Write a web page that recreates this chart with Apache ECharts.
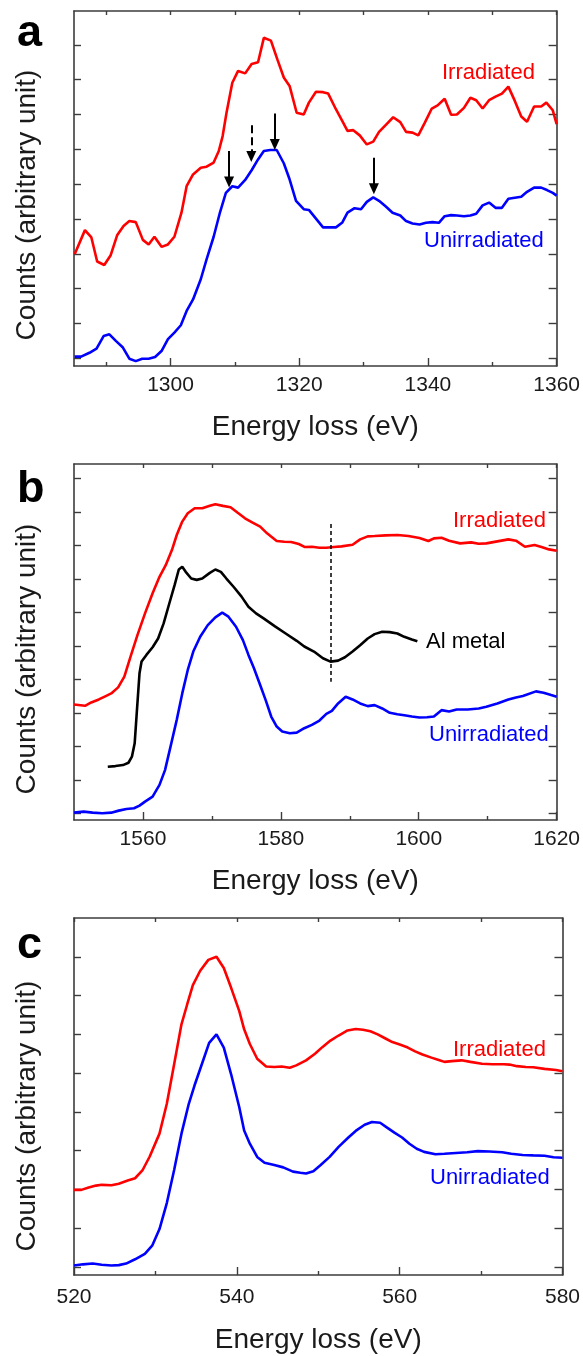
<!DOCTYPE html>
<html><head><meta charset="utf-8">
<script src="https://cdn.jsdelivr.net/npm/echarts@6/dist/echarts.min.js"></script>
<style>html,body{margin:0;padding:0;background:#fff}#c{width:583px;height:1356px}</style>
</head><body><div id="c"></div>
<script>
// ---------- Panel a (x: energy loss eV, y: counts, arbitrary) ----------
const aIrradiated = [[1285.1,2.99],[1286.7,3.68],[1287.7,3.47],[1288.6,2.78],[1289.7,2.68],[1290.7,2.96],[1291.7,3.53],[1292.7,3.80],[1293.6,3.94],[1294.6,3.91],[1295.7,3.40],[1296.6,3.27],[1297.5,3.49],[1298.6,3.20],[1299.6,3.27],[1300.6,3.49],[1301.7,4.18],[1302.5,4.94],[1303.5,5.28],[1304.7,5.47],[1305.6,5.50],[1306.7,5.62],[1307.5,5.95],[1308.1,6.38],[1308.7,7.05],[1309.6,7.91],[1310.5,8.25],[1311.6,8.18],[1312.6,8.45],[1313.6,8.50],[1314.5,9.20],[1315.6,9.12],[1316.6,8.58],[1317.6,8.06],[1318.5,7.82],[1319.6,7.05],[1320.7,7.00],[1321.5,7.34],[1322.6,7.65],[1323.7,7.64],[1324.5,7.60],[1325.7,7.15],[1326.7,6.81],[1327.5,6.53],[1328.4,6.55],[1329.4,6.40],[1330.5,6.14],[1331.5,6.22],[1332.4,6.50],[1333.5,6.71],[1334.6,6.92],[1335.7,6.78],[1336.6,6.50],[1337.6,6.48],[1338.5,6.40],[1339.5,6.76],[1340.6,7.17],[1341.5,7.26],[1342.6,7.45],[1343.6,6.99],[1344.5,7.00],[1345.6,7.19],[1346.6,7.48],[1347.5,7.41],[1348.5,7.17],[1349.5,7.41],[1350.5,7.51],[1351.5,7.60],[1352.5,7.80],[1353.5,7.39],[1354.5,6.94],[1355.4,6.79],[1356.5,7.23],[1357.6,7.23],[1358.4,7.34],[1359.4,7.12],[1360.0,6.72]];
const aUnirradiated = [[1285.1,0.05],[1286.1,0.05],[1287.4,0.16],[1288.5,0.28],[1289.6,0.64],[1290.5,0.69],[1291.5,0.50],[1292.6,0.31],[1293.6,-0.01],[1294.6,-0.08],[1295.6,-0.01],[1296.6,-0.01],[1297.6,0.04],[1298.6,0.21],[1299.6,0.55],[1300.6,0.74],[1301.6,0.95],[1302.5,1.36],[1303.5,1.69],[1304.7,2.27],[1305.6,2.84],[1306.7,3.49],[1307.7,4.20],[1308.6,4.75],[1309.6,4.94],[1310.5,4.90],[1311.6,5.12],[1312.6,5.40],[1313.6,5.71],[1314.5,5.95],[1315.5,5.98],[1316.5,5.98],[1317.6,5.60],[1318.5,5.14],[1319.5,4.52],[1320.7,4.28],[1321.5,4.26],[1322.6,4.01],[1323.7,3.76],[1324.7,3.76],[1325.7,3.76],[1326.7,3.90],[1327.5,4.18],[1328.6,4.31],[1329.6,4.28],[1330.5,4.49],[1331.5,4.62],[1332.4,4.52],[1333.5,4.35],[1334.5,4.18],[1335.7,4.10],[1336.6,3.94],[1337.6,3.87],[1338.7,3.84],[1339.7,3.89],[1340.7,3.91],[1341.7,3.89],[1342.6,4.08],[1343.6,4.11],[1344.5,4.10],[1345.6,4.08],[1346.6,4.10],[1347.5,4.15],[1348.5,4.39],[1349.5,4.47],[1350.5,4.32],[1351.5,4.32],[1352.5,4.58],[1353.5,4.61],[1354.5,4.64],[1355.4,4.78],[1356.5,4.90],[1357.6,4.90],[1358.5,4.83],[1359.4,4.75],[1360.0,4.67]];
// arrows: [energy, tail y, tip y, line type]
const aArrows = [[1309.1,5.95,5.06,'solid'],[1312.55,6.69,5.79,'dashed'],[1316.2,7.03,6.14,'solid'],[1331.6,5.76,4.87,'solid']];
const aXMajor = [1300,1320,1340,1360];
const aXMinor = [1290,1310,1330,1350];
const aYTicks = [0,1,2,3,4,5,6,7,8,9];

// ---------- Panel b ----------
const bIrradiated = [[1550.0,3.25],[1551.6,3.21],[1552.5,3.31],[1553.6,3.40],[1554.6,3.50],[1555.4,3.58],[1556.4,3.76],[1557.3,4.08],[1558.2,4.68],[1559.2,5.32],[1560.3,5.97],[1561.4,6.57],[1562.4,7.06],[1563.3,7.41],[1564.2,7.86],[1564.9,8.31],[1565.7,8.71],[1566.5,8.96],[1567.5,9.11],[1568.6,9.11],[1569.7,9.18],[1570.5,9.23],[1571.6,9.18],[1572.7,9.14],[1573.7,8.98],[1574.8,8.81],[1575.9,8.68],[1577.0,8.56],[1578.0,8.36],[1579.4,8.13],[1580.5,8.11],[1581.5,8.10],[1582.6,8.04],[1583.5,7.95],[1584.5,7.96],[1585.6,7.93],[1586.6,7.93],[1587.7,7.95],[1588.8,7.97],[1590.4,8.02],[1591.5,8.18],[1592.6,8.27],[1593.6,8.28],[1595.2,8.30],[1596.9,8.31],[1598.5,8.28],[1600.1,8.22],[1601.4,8.13],[1602.2,8.21],[1603.3,8.23],[1604.4,8.14],[1606.0,8.06],[1607.6,8.09],[1608.7,8.05],[1609.8,8.06],[1611.4,8.12],[1613.0,8.18],[1614.1,8.14],[1615.4,7.96],[1616.8,8.01],[1617.8,7.95],[1618.9,7.88],[1620.0,7.84]];
const bAlMetal = [[1554.9,1.39],[1556.0,1.41],[1557.1,1.44],[1557.9,1.51],[1558.4,1.69],[1558.8,2.09],[1559.1,2.99],[1559.5,4.18],[1559.8,4.53],[1560.5,4.73],[1561.4,4.96],[1562.2,5.22],[1563.0,5.67],[1563.8,6.25],[1564.6,6.82],[1565.2,7.28],[1565.7,7.36],[1566.2,7.21],[1567.0,7.01],[1567.8,6.97],[1568.6,7.01],[1569.7,7.18],[1570.5,7.28],[1571.3,7.21],[1572.1,7.01],[1573.2,6.75],[1574.3,6.47],[1575.3,6.17],[1576.4,5.97],[1577.5,5.82],[1579.1,5.59],[1580.7,5.37],[1582.3,5.15],[1583.4,4.98],[1584.8,4.83],[1586.1,4.63],[1587.2,4.53],[1588.3,4.56],[1589.3,4.66],[1590.4,4.83],[1591.5,5.02],[1592.6,5.22],[1593.6,5.35],[1594.7,5.42],[1595.8,5.41],[1596.9,5.37],[1597.9,5.27],[1599.0,5.19],[1599.8,5.14]];
const bUnirradiated = [[1550.0,0.02],[1551.4,0.05],[1552.7,0.02],[1554.1,0.00],[1555.4,0.02],[1556.5,0.08],[1557.6,0.13],[1558.7,0.15],[1559.5,0.23],[1560.3,0.35],[1561.4,0.50],[1562.4,0.85],[1563.2,1.29],[1564.0,1.99],[1564.9,2.79],[1565.7,3.58],[1566.5,4.28],[1567.3,4.83],[1568.3,5.27],[1569.4,5.62],[1570.5,5.85],[1571.5,5.99],[1572.4,5.87],[1573.5,5.57],[1574.5,5.17],[1575.3,4.73],[1576.1,4.33],[1577.0,3.83],[1577.8,3.38],[1578.6,2.89],[1579.4,2.59],[1580.2,2.44],[1581.3,2.39],[1582.3,2.41],[1583.4,2.54],[1584.5,2.64],[1585.6,2.77],[1586.6,2.97],[1587.4,3.06],[1588.3,3.28],[1589.4,3.48],[1590.4,3.40],[1591.5,3.28],[1592.6,3.20],[1593.6,3.23],[1594.7,3.13],[1595.8,3.00],[1596.9,2.96],[1597.9,2.93],[1599.0,2.89],[1600.1,2.86],[1601.2,2.87],[1602.2,2.89],[1603.3,3.08],[1604.4,3.04],[1605.5,3.10],[1607.1,3.10],[1608.7,3.13],[1609.8,3.18],[1611.4,3.28],[1613.0,3.40],[1614.1,3.46],[1615.1,3.50],[1617.0,3.64],[1618.1,3.60],[1619.2,3.53],[1620.0,3.48]];
const bDashed = [1587.3, 8.64, 3.93]; // energy, top y, bottom y
const bXMajor = [1560,1580,1600,1620];
const bXMinor = [1570,1590,1610];
const bYTicks = [0,1,2,3,4,5,6,7,8,9,10];

// ---------- Panel c ----------
const cIrradiated = [[520.0,1.99],[520.9,1.99],[521.8,2.05],[522.7,2.10],[523.4,2.12],[524.6,2.11],[525.5,2.15],[526.6,2.23],[527.5,2.29],[528.4,2.49],[529.3,2.85],[530.5,3.44],[531.4,4.21],[532.3,5.23],[533.2,6.26],[533.9,6.77],[534.6,7.27],[535.5,7.64],[536.5,7.92],[537.5,8.00],[538.4,7.71],[539.3,7.20],[540.3,6.60],[540.9,6.13],[541.6,5.75],[542.5,5.37],[543.6,5.17],[544.6,5.16],[545.5,5.17],[546.5,5.14],[547.3,5.20],[548.5,5.33],[549.6,5.50],[550.5,5.67],[551.5,5.84],[552.5,5.97],[553.6,6.10],[554.6,6.14],[555.5,6.12],[556.4,6.08],[557.3,6.00],[558.2,5.90],[559.1,5.80],[560.1,5.73],[561.0,5.66],[561.9,5.56],[562.8,5.48],[563.9,5.40],[564.8,5.34],[565.5,5.29],[566.4,5.31],[567.6,5.33],[568.7,5.29],[570.1,5.24],[571.4,5.23],[572.8,5.23],[573.5,5.22],[574.4,5.18],[575.5,5.16],[576.4,5.15],[577.8,5.11],[579.2,5.08],[580.0,5.05]];
const cUnirradiated = [[520.0,0.04],[521.1,0.07],[522.3,0.09],[523.4,0.06],[524.6,0.04],[525.5,0.05],[526.4,0.09],[527.5,0.20],[528.7,0.34],[529.6,0.55],[530.5,0.98],[531.4,1.65],[532.3,2.50],[533.2,3.44],[534.1,4.21],[534.8,4.68],[535.7,5.23],[536.6,5.78],[537.5,6.00],[538.4,5.66],[539.3,4.97],[540.3,4.12],[540.9,3.52],[541.6,3.18],[542.5,2.84],[543.4,2.69],[544.6,2.63],[545.7,2.57],[546.9,2.46],[547.8,2.43],[548.5,2.41],[549.4,2.47],[550.3,2.63],[551.4,2.84],[552.5,3.10],[553.7,3.34],[554.6,3.51],[555.7,3.67],[556.6,3.74],[557.6,3.72],[558.5,3.59],[559.4,3.46],[560.3,3.34],[561.2,3.18],[562.1,3.05],[563.0,2.97],[564.4,2.91],[565.5,2.92],[566.9,2.94],[568.3,2.96],[569.6,2.99],[571.0,2.98],[572.6,2.96],[573.7,2.92],[575.1,2.89],[576.4,2.88],[577.8,2.87],[578.9,2.83],[580.0,2.82]];
const cXMajor = [520,540,560,580];
const cXMinor = [530,550,570];
const cYTicks = [0,1,2,3,4,5,6,7,8];

const xTitle = 'Energy loss (eV)';
const yTitle = 'Counts (arbitrary unit)';
const panelLetters = ['a','b','c'];

// ---------- build ----------
const FONT = '"Liberation Sans", Arial, sans-serif';
const AX = '#3c3c3c';
const RED = '#ff0000', BLUE = '#0000ff', BLACK = '#000000';

const panels = [
  {grid:{left:74,top:11,width:483,height:355}, xMin:1285, xMax:1360, major:aXMajor, minor:aXMinor, yMin:-0.22, yMax:9.97, yTicks:aYTicks, lblMargin:9, nameGap:47},
  {grid:{left:74,top:464,width:483,height:356}, xMin:1550, xMax:1620, major:bXMajor, minor:bXMinor, yMin:-0.2, yMax:10.43, yTicks:bYTicks, lblMargin:9, nameGap:47},
  {grid:{left:74,top:918,width:490,height:357}, xMin:520, xMax:580, major:cXMajor, minor:cXMinor, yMin:-0.205, yMax:9.0, yTicks:cYTicks, lblMargin:12, nameGap:51}
];

const grid = [], xAxis = [], yAxis = [];
panels.forEach((p, i) => {
  grid.push(p.grid);
  const all = p.major.concat(p.minor).sort((a,b)=>a-b);
  xAxis.push({type:'value', gridIndex:i, position:'bottom', min:p.xMin, max:p.xMax,
    axisLine:{show:true, onZero:false, lineStyle:{color:AX, width:1.6}},
    axisTick:{show:true, inside:true, length:8, customValues:p.major, lineStyle:{color:AX, width:1.4}},
    axisLabel:{show:true, customValues:p.major, fontSize:21, color:'#1a1a1a', fontFamily:FONT, margin:p.lblMargin,
      formatter:v => String(v)},
    splitLine:{show:false},
    name:xTitle, nameLocation:'middle', nameGap:p.nameGap,
    nameTextStyle:{fontSize:28, color:'#1a1a1a', fontFamily:FONT}});
  xAxis.push({type:'value', gridIndex:i, position:'bottom', min:p.xMin, max:p.xMax,
    axisLine:{show:false, onZero:false},
    axisTick:{show:true, inside:true, length:4, customValues:p.minor, lineStyle:{color:AX, width:1.4}},
    axisLabel:{show:false}, splitLine:{show:false}});
  xAxis.push({type:'value', gridIndex:i, position:'top', min:p.xMin, max:p.xMax,
    axisLine:{show:true, onZero:false, lineStyle:{color:AX, width:1.6}},
    axisTick:{show:true, inside:true, length:4, customValues:all, lineStyle:{color:AX, width:1.4}},
    axisLabel:{show:false}, splitLine:{show:false}});
  yAxis.push({type:'value', gridIndex:i, position:'left', min:p.yMin, max:p.yMax,
    axisLine:{show:true, onZero:false, lineStyle:{color:AX, width:1.6}},
    axisTick:{show:true, inside:true, length:7, customValues:p.yTicks, lineStyle:{color:AX, width:1.4}},
    axisLabel:{show:false}, splitLine:{show:false}});
  yAxis.push({type:'value', gridIndex:i, position:'right', min:p.yMin, max:p.yMax,
    axisLine:{show:true, onZero:false, lineStyle:{color:AX, width:1.6}},
    axisTick:{show:true, inside:true, length:8, customValues:p.yTicks, lineStyle:{color:AX, width:1.4}},
    axisLabel:{show:false}, splitLine:{show:false}});
});

function line(data, color, gi, extra) {
  return Object.assign({type:'line', data:data, xAxisIndex:gi*3, yAxisIndex:gi*2,
    showSymbol:false, symbol:'none', smooth:false, silent:true,
    lineStyle:{color:color, width:2.6}, itemStyle:{color:color}}, extra||{});
}

const arrowMarks = aArrows.map(a => [
  {coord:[a[0], a[1]], lineStyle:{type:a[3], color:BLACK, width:2}},
  {coord:[a[0], a[2]]}
]);

const series = [
  line(aIrradiated, RED, 0),
  line(aUnirradiated, BLUE, 0, {markLine:{silent:true, animation:false, symbol:['none','triangle'], symbolSize:[10,11],
    label:{show:false}, lineStyle:{color:BLACK, width:2, type:'solid'}, data:arrowMarks}}),
  line(bIrradiated, RED, 1),
  line(bAlMetal, BLACK, 1, {markLine:{silent:true, animation:false, symbol:['none','none'], label:{show:false},
    lineStyle:{color:BLACK, width:1.5, type:[4,3]},
    data:[[{coord:[bDashed[0], bDashed[1]]},{coord:[bDashed[0], bDashed[2]]}]]}}),
  line(bUnirradiated, BLUE, 1),
  line(cIrradiated, RED, 2),
  line(cUnirradiated, BLUE, 2)
];

const yTitleY = [205, 659, 1116];
const letterY = [34, 490, 946];
const graphic = [];
panels.forEach((p, i) => {
  graphic.push({type:'text', x:27, y:yTitleY[i], rotation:Math.PI/2,
    style:{text:yTitle, fontSize:28, fontFamily:FONT, fill:'#1a1a1a', textAlign:'center', textVerticalAlign:'middle'}});
  graphic.push({type:'text', x:17, y:letterY[i],
    style:{text:panelLetters[i], fontSize:45, fontWeight:'bold', fontFamily:FONT, fill:'#000', textAlign:'left', textVerticalAlign:'middle'}});
});
const seriesLabels = [
  ['Irradiated', 442, 73, RED], ['Unirradiated', 424, 241, BLUE],
  ['Irradiated', 453, 521, RED], ['Al metal', 426, 642, BLACK], ['Unirradiated', 429, 735, BLUE],
  ['Irradiated', 453, 1050, RED], ['Unirradiated', 430, 1178, BLUE]
];
seriesLabels.forEach(l => graphic.push({type:'text', x:l[1], y:l[2],
  style:{text:l[0], fontSize:22, fontFamily:FONT, fill:l[3], textAlign:'left', textVerticalAlign:'middle'}}));

const chart = echarts.init(document.getElementById('c'), null, {renderer:'canvas'});
chart.setOption({
  animation:false,
  backgroundColor:'#ffffff',
  textStyle:{fontFamily:FONT},
  grid:grid, xAxis:xAxis, yAxis:yAxis, series:series, graphic:graphic
});
</script>
</body></html>
